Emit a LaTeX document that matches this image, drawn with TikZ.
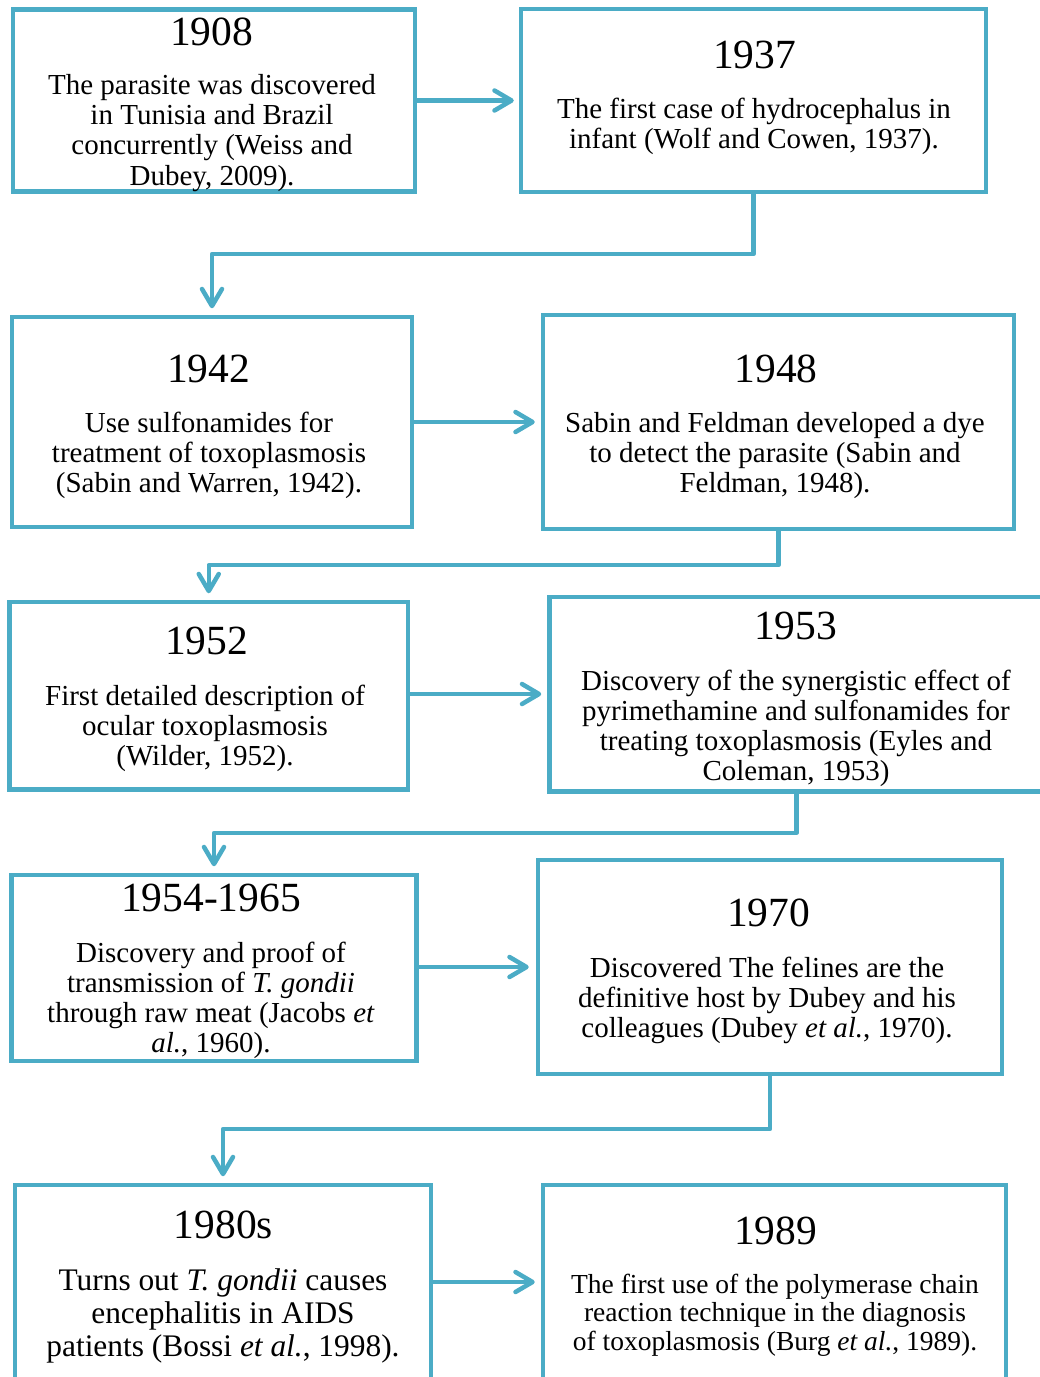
\documentclass[tikz,border=0pt]{standalone}
\usepackage{fontspec}
\setmainfont{Liberation Serif}
\newcommand\bodytxt[3]{{\fontsize{#1}{#2}\selectfont\begin{tabular}[t]{@{}c@{}}#3\end{tabular}}}
\usetikzlibrary{arrows.meta}
\definecolor{tl}{HTML}{4BACC6}
\tikzset{
  box/.style={draw=tl, line width=4.5pt, rectangle, inner sep=0pt},
  arr/.style={draw=tl, line width=4.5pt, line cap=round,
    -{Straight Barb[round, length=17pt, width=20pt]}},
  yearlbl/.style={anchor=base, inner sep=0pt, font=\fontsize{41.5}{41.5}\selectfont},
  bodylbl/.style={anchor=base, inner sep=0pt},
}
\begin{document}
\begin{tikzpicture}[x=1pt, y=-1pt]
\fill[white] (0,0) rectangle (1040,1377);
\useasboundingbox (0,0) rectangle (1040,1377);

% boxes
\node[box, minimum width=402pt, minimum height=182pt] (b1) at (214,100.5) {};
\node[box, minimum width=465pt, minimum height=183pt] (b2) at (753.5,100.5) {};
\node[box, minimum width=400pt, minimum height=210pt] (b3) at (212,422) {};
\node[box, minimum width=471pt, minimum height=214pt] (b4) at (778.5,422) {};
\node[box, minimum width=398.5pt, minimum height=187.5pt] (b5) at (208.75,695.75) {};
\node[box, minimum width=493.5pt, minimum height=194.5pt] (b6) at (796.25,694.25) {};
\node[box, minimum width=405pt, minimum height=186pt] (b7) at (214,968) {};
\node[box, minimum width=464pt, minimum height=214pt] (b8) at (770,967) {};
\node[box, minimum width=416pt, minimum height=215pt] (b9) at (223,1292.5) {};
\node[box, minimum width=463pt, minimum height=215pt] (b10) at (774.5,1292.5) {};

% texts
\node[yearlbl] (y1) at (211.5,45) {1908};
\node[bodylbl] (t1) at (212,94.5) {\bodytxt{29}{30.2}{The parasite was discovered\\ in Tunisia and Brazil\\ concurrently (Weiss and\\ Dubey, 2009).}};

\node[yearlbl] (y2) at (754.5,68) {1937};
\node[bodylbl] (t2) at (754,118) {\bodytxt{29}{30.2}{The first case of hydrocephalus in\\ infant (Wolf and Cowen, 1937).}};

\node[yearlbl] (y3) at (208.5,382) {1942};
\node[bodylbl] (t3) at (209,432) {\bodytxt{29}{30.2}{Use sulfonamides for\\ treatment of toxoplasmosis\\ (Sabin and Warren, 1942).}};

\node[yearlbl] (y4) at (776,382) {1948};
\node[bodylbl] (t4) at (775,432.5) {\bodytxt{29}{30.2}{Sabin and Feldman developed a dye\\ to detect the parasite (Sabin and\\ Feldman, 1948).}};

\node[yearlbl] (y5) at (206.5,654) {1952};
\node[bodylbl] (t5) at (205,705) {\bodytxt{29}{30.2}{First detailed description of\\ ocular toxoplasmosis\\ (Wilder, 1952).}};

\node[yearlbl] (y6) at (795.5,639) {1953};
\node[bodylbl] (t6) at (796,690) {\bodytxt{29}{30.2}{Discovery of the synergistic effect of\\ pyrimethamine and sulfonamides for\\ treating toxoplasmosis (Eyles and\\ Coleman, 1953)}};

\node[yearlbl] (y7) at (211,911) {1954-1965};
\node[bodylbl] (t7) at (211,962) {\bodytxt{29}{30.2}{Discovery and proof of\\ transmission of \textit{T. gondii}\\ through raw meat (Jacobs \textit{et}\\ \textit{al.}, 1960).}};

\node[yearlbl] (y8) at (768.5,926.5) {1970};
\node[bodylbl] (t8) at (767,977) {\bodytxt{29}{30.2}{Discovered The felines are the\\ definitive host by Dubey and his\\ colleagues (Dubey \textit{et al.}, 1970).}};

\node[yearlbl] (y9) at (223.5,1238.5) {1980s};
\node[bodylbl] (t9) at (223,1290.5) {\bodytxt{31.4}{33}{Turns out \textit{T. gondii} causes\\ encephalitis in AIDS\\ patients (Bossi \textit{et al.}, 1998).}};

\node[yearlbl] (y10) at (775.5,1244) {1989};
\node[bodylbl] (t10) at (775,1293.3) {\bodytxt{27.5}{28.6}{The first use of the polymerase chain\\ reaction technique in the diagnosis\\ of toxoplasmosis (Burg \textit{et al.}, 1989).}};

% horizontal arrows
\draw[arr, shorten >=5pt] (b1.east) -- (b2.west |- b1.east);
\draw[arr, shorten >=6pt] (b3.east) -- (b4.west |- b3.east);
\draw[arr, shorten >=6pt] (b5.east |- 0,694) -- (b6.west |- 0,694);
\draw[arr, shorten >=7pt] (b7.east |- 0,967) -- (b8.west |- 0,967);
\draw[arr, shorten >=6pt] (b9.east |- 0,1282) -- (b10.west |- 0,1282);

% elbow connectors
\draw[arr, shorten >=6.5pt, line join=round] (b2.south) -- (b2.south |- 0,254) -| (b3.north);
\draw[arr, shorten >=6.5pt, line join=round] (b4.south) -- (b4.south |- 0,565) -| (b5.north);
\draw[arr, shorten >=6.5pt, line join=round] (b6.south) -- (b6.south |- 0,833) -| (b7.north);
\draw[arr, shorten >=6.5pt, line join=round] (b8.south) -- (b8.south |- 0,1129) -| (b9.north);
\end{tikzpicture}
\end{document}
